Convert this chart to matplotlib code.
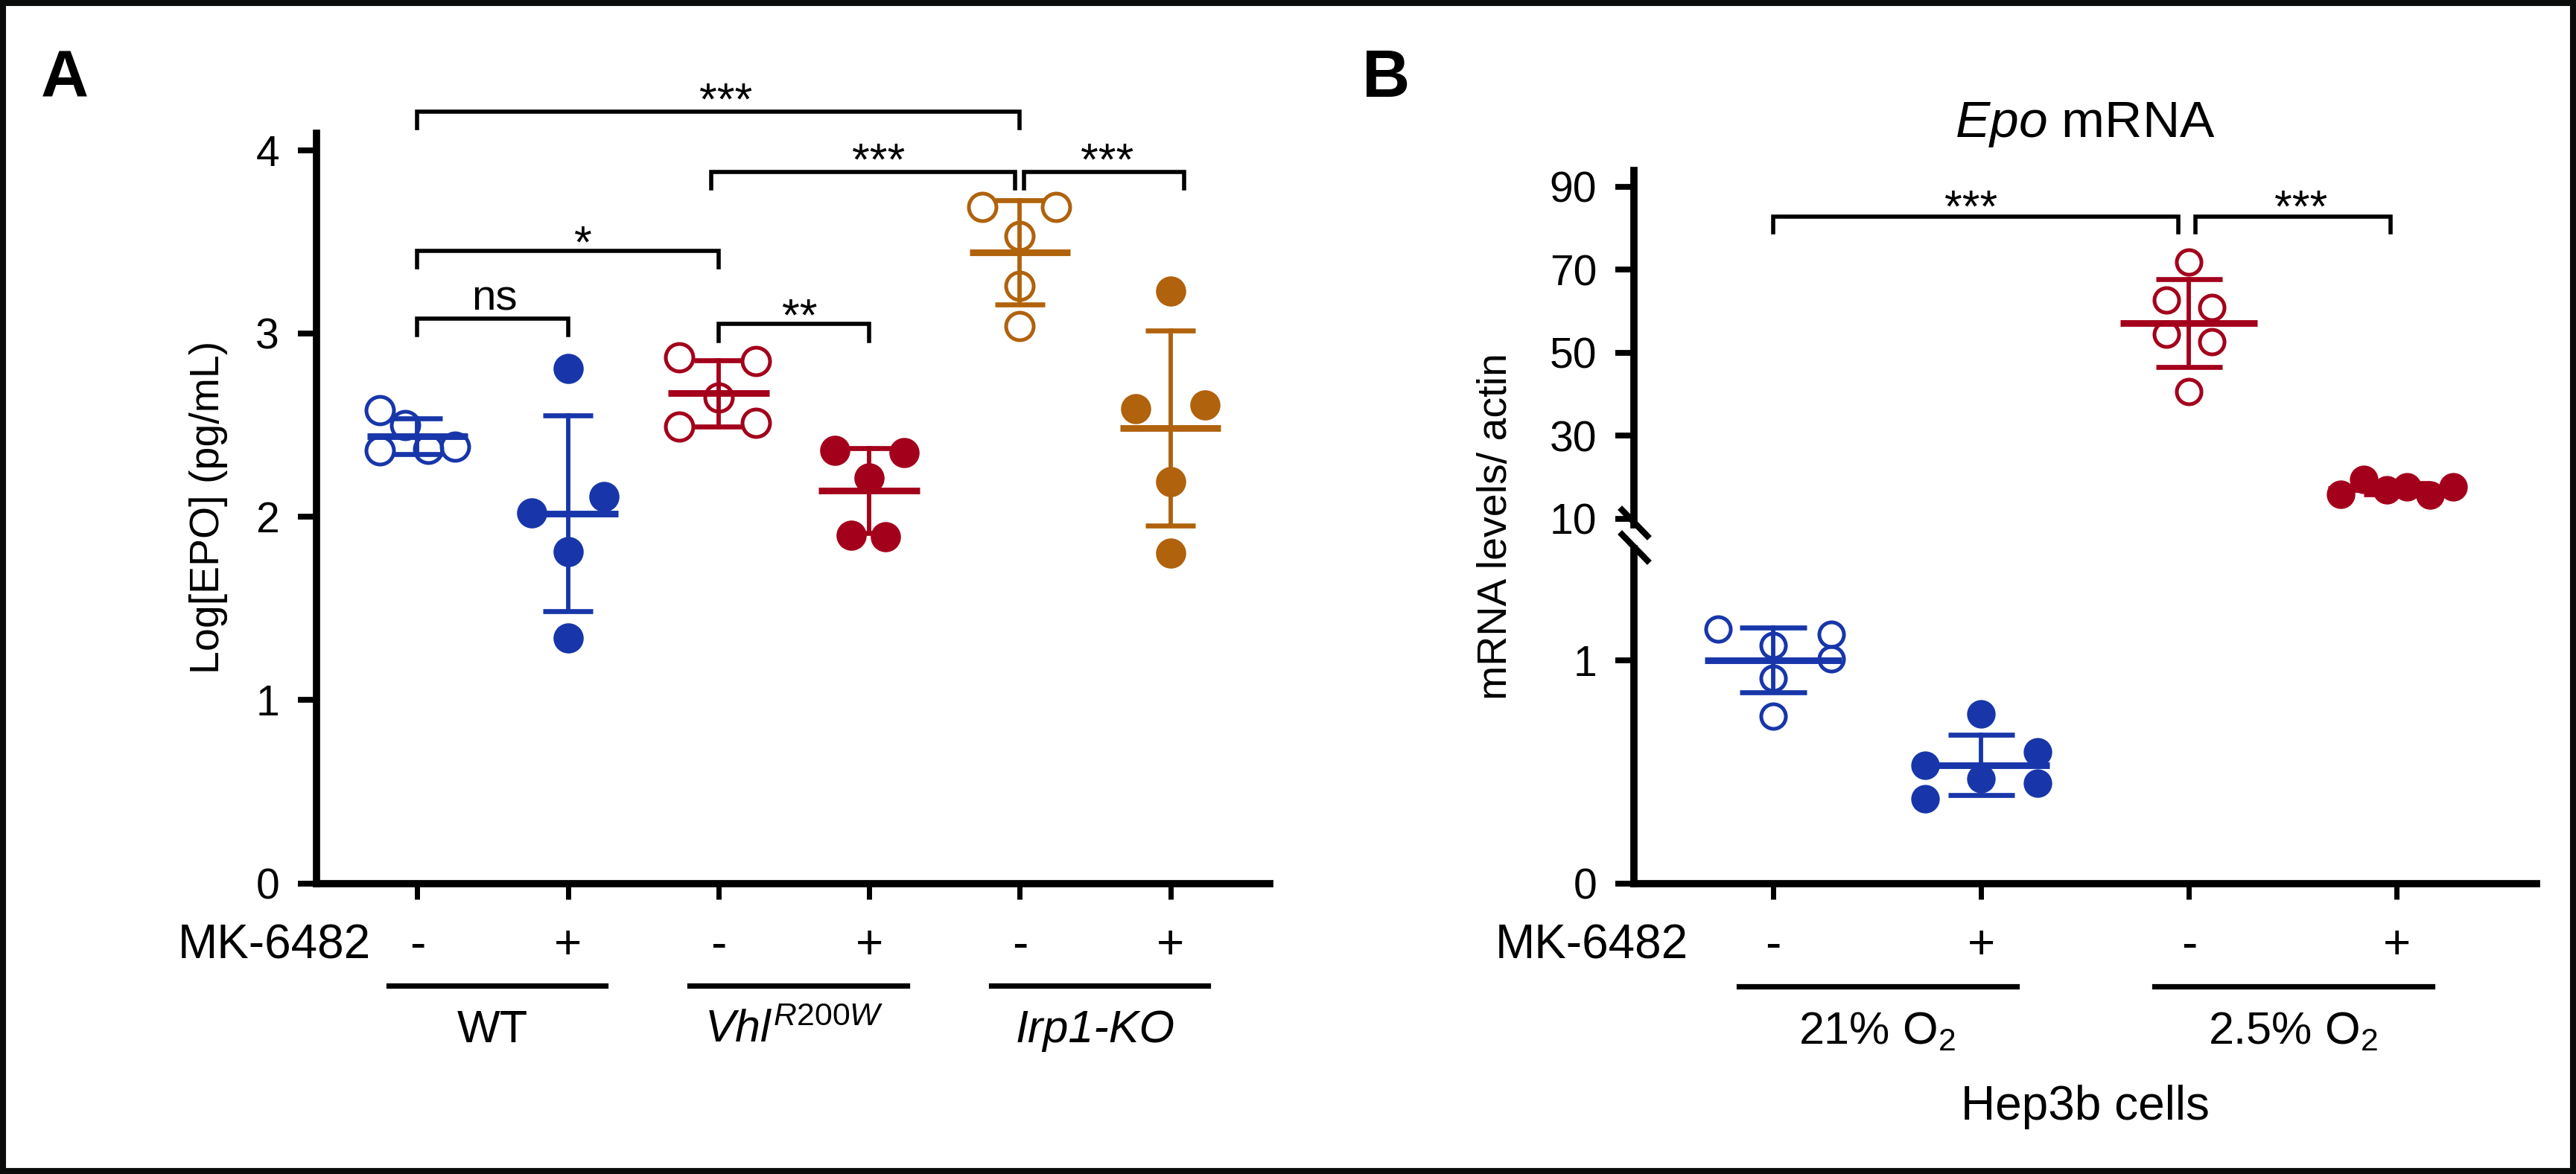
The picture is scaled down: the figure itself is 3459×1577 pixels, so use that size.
import numpy as np
import matplotlib
matplotlib.use('Agg')
import matplotlib.pyplot as plt
from matplotlib.lines import Line2D
from matplotlib.patches import Rectangle

plt.rcParams['font.family'] = ['Liberation Sans', 'DejaVu Sans']
plt.rcParams['mathtext.fontset'] = 'custom'
plt.rcParams['mathtext.rm'] = 'Liberation Sans'
plt.rcParams['mathtext.it'] = 'Liberation Sans:italic'
plt.rcParams['mathtext.bf'] = 'Liberation Sans:bold'

### colours
BLUE = '#1836aa'
RED = '#a3001b'
ORANGE = '#b0620c'

### panel A: Log[EPO] (pg/mL), per mouse
wt_veh = [2.58, 2.50, 2.36, 2.37, 2.38]
wt_mk = [2.81, 2.11, 2.02, 1.81, 1.34]
vhl_veh = [2.87, 2.85, 2.65, 2.49, 2.51]
vhl_mk = [2.36, 2.35, 2.21, 1.90, 1.89]
irp_veh = [3.69, 3.69, 3.53, 3.26, 3.04]
irp_mk = [3.23, 2.59, 2.61, 2.19, 1.80]
a_jitter = [[-0.25, -0.08, -0.25, 0.07, 0.25],
            [0, 0.24, -0.24, 0, 0],
            [-0.26, 0.25, 0, -0.26, 0.25],
            [-0.23, 0.23, 0, -0.12, 0.11],
            [-0.25, 0.24, 0, 0, 0],
            [0, -0.23, 0.23, 0, 0]]
a_groups = ['WT', r'$\mathit{Vhl}^{\mathit{R200W}}$', 'Irp1-KO']
a_treat = ['-', '+', '-', '+', '-', '+']
a_yticks = [0, 1, 2, 3, 4]
# (x1, x2, y, label, label x, label centre y)
a_brackets = [(0, 1, 3.08, 'ns', 0.51, 3.19),
              (0, 2, 3.45, '*', 1.10, 3.56),
              (2, 3, 3.05, '**', 2.54, 3.16),
              (0, 4, 4.21, '***', 2.05, 4.34),
              (1.95, 3.97, 3.88, '***', 3.06, 4.01),
              (4.03, 5.09, 3.88, '***', 4.58, 4.01)]

### panel B: Epo mRNA levels / actin, Hep3b cells
n21_veh = [1.14, 1.065, 1.115, 1.005, 0.92, 0.75]
n21_mk = [0.76, 0.53, 0.47, 0.38, 0.59, 0.45]
h25_veh = [71.9, 62.7, 60.9, 54.5, 52.7, 40.7]
h25_mk = [15.9, 19.5, 17.0, 17.7, 15.7, 17.7]
b_jitter = [[-0.265, 0, 0.28, 0.28, 0, 0],
            [0, -0.27, 0, -0.27, 0.27, 0.27],
            [0, -0.11, 0.11, -0.11, 0.11, 0],
            [-0.27, -0.16, -0.05, 0.05, 0.16, 0.27]]
b_groups = [r'21% O$_2$', r'2.5% O$_2$']
b_treat = ['-', '+', '-', '+']
b_yticks_top = [10, 30, 50, 70, 90]
b_yticks_low = [0, 1]
b_brackets = [(0, 1.95, 82.8, '***', 0.95, 87.9),
              (2.03, 2.97, 82.8, '***', 2.54, 87.9)]

### figure geometry (pixels of the 3459x1577 output)
W, H, DPI = 3459, 1577, 200
fig = plt.figure(figsize=(W / DPI, H / DPI), dpi=DPI)


def fx(px):
    return px / W


def fy(py):
    return 1 - py / H


def style_axis(ax, hide_bottom=False, hide_top=True):
    ax.spines['right'].set_visible(False)
    ax.spines['top'].set_visible(not hide_top)
    ax.spines['bottom'].set_visible(not hide_bottom)
    for s in ('left', 'bottom', 'top'):
        ax.spines[s].set_linewidth(3.5)
    ax.tick_params(axis='y', length=9, width=2.8, pad=9, labelsize=20.5)
    ax.tick_params(axis='x', length=7.5, width=2.5, labelbottom=False)


def draw_group(ax, x, vals, offs, color, filled, half_mean=0.335, half_cap=0.165,
               ms_fill=14.6, ms_open=13.3):
    vals = np.asarray(vals)
    m = vals.mean()
    sd = vals.std(ddof=1)
    xs = x + np.asarray(offs)
    if filled:
        ax.plot(xs, vals, 'o', ms=ms_fill, mfc=color, mec=color, mew=0, ls='none', zorder=3)
    else:
        ax.plot(xs, vals, 'o', ms=ms_open, mfc='none', mec=color, mew=1.8, ls='none', zorder=3)
    ax.plot([x - half_mean, x + half_mean], [m, m], color=color, lw=3.2,
            solid_capstyle='butt', zorder=4)
    ax.plot([x, x], [m - sd, m + sd], color=color, lw=2.1, zorder=4)
    for yy in (m - sd, m + sd):
        ax.plot([x - half_cap, x + half_cap], [yy, yy], color=color, lw=2.4,
                solid_capstyle='butt', zorder=4)


def draw_bracket(ax, x1, x2, y, tip, label, lx, ly):
    ax.plot([x1, x1, x2, x2], [y - tip, y, y, y - tip], color='black', lw=2.0,
            clip_on=False, solid_joinstyle='miter')
    if label == 'ns':
        ax.annotate(label, (lx, ly), xytext=(0, -0.26 * 21), textcoords='offset points',
                    ha='center', va='baseline', fontsize=21, annotation_clip=False)
    else:
        ax.annotate(label, (lx, ly), xytext=(0, -0.575 * 22), textcoords='offset points',
                    ha='center', va='baseline', fontsize=22, annotation_clip=False)


### ---------------- panel A ----------------
axA = fig.add_axes([fx(425), fy(1186.5), fx(1705) - fx(425), fy(179.4) - fy(1186.5)])
style_axis(axA)
axA.set_xlim(-0.67, 5.66)
axA.set_ylim(0, 4.09)
axA.set_yticks(a_yticks)
axA.set_xticks(range(6))

a_data = [wt_veh, wt_mk, vhl_veh, vhl_mk, irp_veh, irp_mk]
a_cols = [BLUE, BLUE, RED, RED, ORANGE, ORANGE]
for i, vals in enumerate(a_data):
    draw_group(axA, i, vals, a_jitter[i], a_cols[i], filled=(i % 2 == 1))

for x1, x2, y, lab, lx, ly in a_brackets:
    draw_bracket(axA, x1, x2, y, 0.09, lab, lx, ly)

trA = axA.get_xaxis_transform()
hA = 1186.5 - 179.4


def fa(py):
    return (1186.5 - py) / hA


for i, t in enumerate(a_treat):
    axA.text(i, fa(1288), t, transform=trA, ha='center', va='baseline', fontsize=23)
axA.text(-0.31, fa(1288), 'MK-6482', transform=trA, ha='right', va='baseline', fontsize=23)
for g, lab in enumerate(a_groups):
    c = 2 * g
    axA.add_line(Line2D([c - 0.19, c + 1.25], [fa(1324), fa(1324)], transform=trA,
                        color='black', lw=2.6, clip_on=False))
    axA.text(c + 0.5, fa(1400), lab, transform=trA, ha='center', va='baseline',
             fontsize=22, style='italic' if g == 2 else 'normal')

fig.text(fx(280), fy(681), 'Log[EPO] (pg/mL)', rotation=90, ha='center', va='center',
         fontsize=20)

### ---------------- panel B ----------------
left_b, right_b = 2194, 3405.5
axB = fig.add_axes([fx(left_b), fy(704.8), fx(right_b) - fx(left_b), fy(228.6) - fy(704.8)])
axL = fig.add_axes([fx(left_b), fy(1186.5), fx(right_b) - fx(left_b), fy(736.5) - fy(1186.5)],
                   sharex=axB)
style_axis(axB, hide_bottom=True)
style_axis(axL)
axB.tick_params(axis='x', which='both', bottom=False, labelbottom=False)
axB.set_xlim(-0.67, 3.67)
axB.set_ylim(8.6, 94)
axB.set_yticks(b_yticks_top)
axL.set_ylim(0, 1.5)
axL.set_yticks(b_yticks_low)
axL.set_xticks(range(4))

b_data = [n21_veh, n21_mk, h25_veh, h25_mk]
b_cols = [BLUE, BLUE, RED, RED]
for i, vals in enumerate(b_data):
    ax = axL if np.mean(vals) < 5 else axB
    draw_group(ax, i, vals, b_jitter[i], b_cols[i], filled=(i % 2 == 1),
               half_mean=0.33, half_cap=0.16, ms_fill=13.8, ms_open=11.9)

for x1, x2, y, lab, lx, ly in b_brackets:
    draw_bracket(axB, x1, x2, y, 3.7, lab, lx, ly)

# axis break marks
for y0 in (685, 718):
    fig.add_artist(Line2D([fx(2178), fx(2212)], [fy(y0), fy(y0 + 35)],
                          transform=fig.transFigure, color='black', lw=3.0))

trL = axL.get_xaxis_transform()


def fb(py):
    return (1186.5 - py) / 450.0


for i, t in enumerate(b_treat):
    axL.text(i, fb(1288), t, transform=trL, ha='center', va='baseline', fontsize=23)
axL.text(-0.41, fb(1288), 'MK-6482', transform=trL, ha='right', va='baseline', fontsize=23)
for g, lab in enumerate(b_groups):
    c = 2 * g
    axL.add_line(Line2D([c - 0.165, c + 1.17], [fb(1325), fb(1325)], transform=trL,
                        color='black', lw=2.6, clip_on=False))
    axL.text(c + 0.5, fb(1402), lab, transform=trL, ha='center', va='baseline', fontsize=22)
axL.text(1.5, fb(1504), 'Hep3b cells', transform=trL, ha='center', va='baseline', fontsize=23)

fig.text(fx(2800), fy(184), r'$\mathit{Epo}$ mRNA', ha='center', va='baseline', fontsize=25)
fig.text(fx(2009), fy(707), 'mRNA levels/ actin', rotation=90, ha='center', va='center',
         fontsize=20)

### panel letters and frame
fig.text(fx(55), fy(130), 'A', fontsize=32, fontweight='bold', ha='left', va='baseline')
fig.text(fx(1829), fy(130), 'B', fontsize=32, fontweight='bold', ha='left', va='baseline')
fig.patches.append(Rectangle((0, 0), 1, 1, transform=fig.transFigure, fill=False,
                             lw=5.8, ec='#0a0c0b'))

fig.savefig('out.png', dpi=DPI)
